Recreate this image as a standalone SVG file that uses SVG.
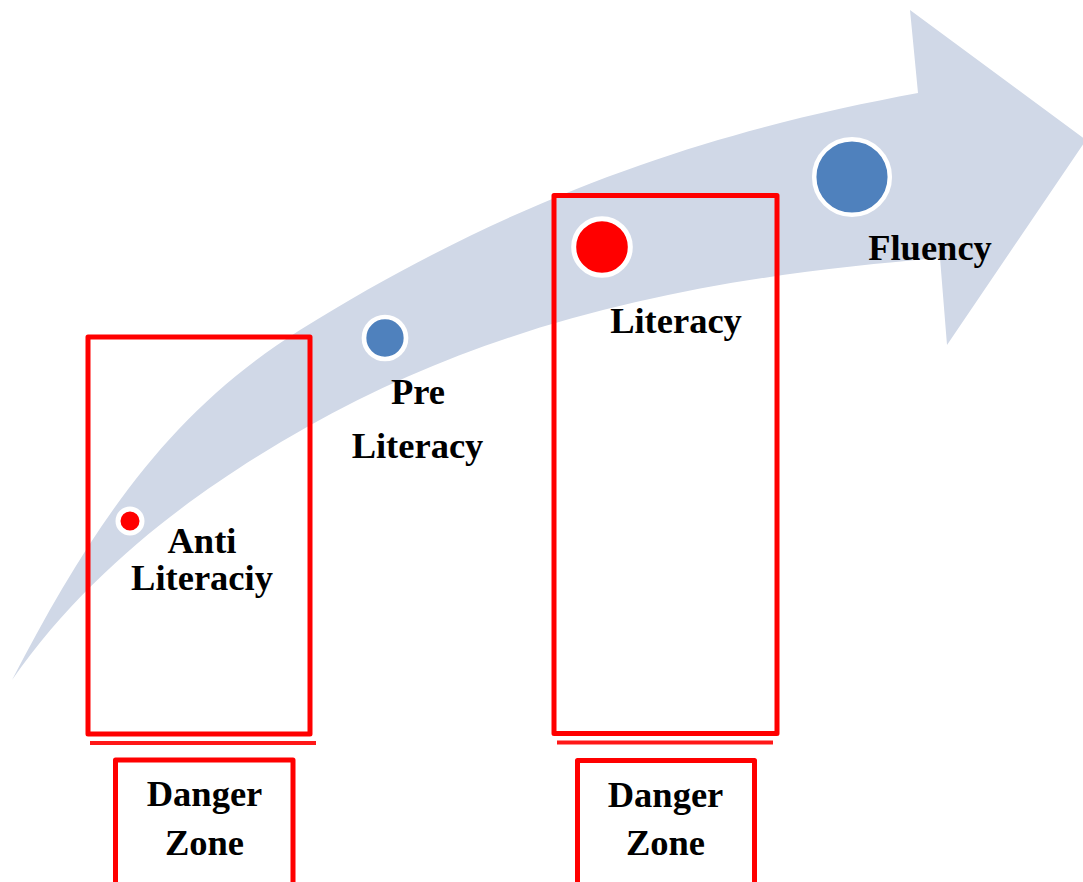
<svg xmlns="http://www.w3.org/2000/svg" width="1083" height="882" viewBox="0 0 1083 882">
<style>
.lbl{font-family:"Liberation Serif","Times New Roman",serif;font-weight:bold;font-size:36.5px;fill:#000;text-anchor:middle}
.zone{fill:none;stroke:#ff0000;stroke-width:5;stroke-linejoin:round}
.rule{stroke:#ff0000;stroke-width:4;opacity:0.9}
.dot{stroke:#ffffff}
.red{fill:#ff0000}
.blue{fill:#4f81bd}
</style>
<rect width="1083" height="882" fill="#ffffff"/>
<g id="arrow">
<path d="M12,680 C95,520 172,410 300,330 C536,183 735,127 918,93 L910,10 L1086,140 L947,345 L940,258 C732,275 514,310 307,427 C222,475 98,556 12,680 Z" fill="#d0d8e7"/>
</g>
<g id="danger-box-1">
<rect class="zone" x="88" y="337" width="222" height="397"/>
<line class="rule" x1="90" y1="743" x2="316" y2="743"/>
</g>
<g id="danger-box-2">
<rect class="zone" x="554" y="195.5" width="223" height="538"/>
<line class="rule" x1="557" y1="742.5" x2="773" y2="742.5"/>
</g>
<g id="anti-literacy">
<circle class="dot red" cx="130" cy="521" r="12" stroke-width="5"/>
<text class="lbl" x="202" y="553">Anti</text>
<text class="lbl" x="202" y="590">Literaciy</text>
</g>
<g id="pre-literacy">
<circle class="dot blue" cx="385" cy="338" r="21" stroke-width="4.7"/>
<text class="lbl" x="418" y="404">Pre</text>
<text class="lbl" x="417.5" y="458">Literacy</text>
</g>
<g id="literacy">
<circle class="dot red" cx="602" cy="247" r="28.3" stroke-width="5"/>
<text class="lbl" x="676" y="333">Literacy</text>
</g>
<g id="fluency">
<circle class="dot blue" cx="852" cy="177" r="37.8" stroke-width="4.5"/>
<text class="lbl" x="930" y="260">Fluency</text>
</g>
<g id="danger-zone-1">
<rect class="zone" x="115.5" y="760" width="177.5" height="140"/>
<text class="lbl" x="204.5" y="806">Danger</text>
<text class="lbl" x="204.5" y="855">Zone</text>
</g>
<g id="danger-zone-2">
<rect class="zone" x="577.5" y="760.5" width="177" height="140"/>
<text class="lbl" x="665.5" y="806.5">Danger</text>
<text class="lbl" x="665.5" y="855">Zone</text>
</g>
<g id="connectors"></g>
</svg>
